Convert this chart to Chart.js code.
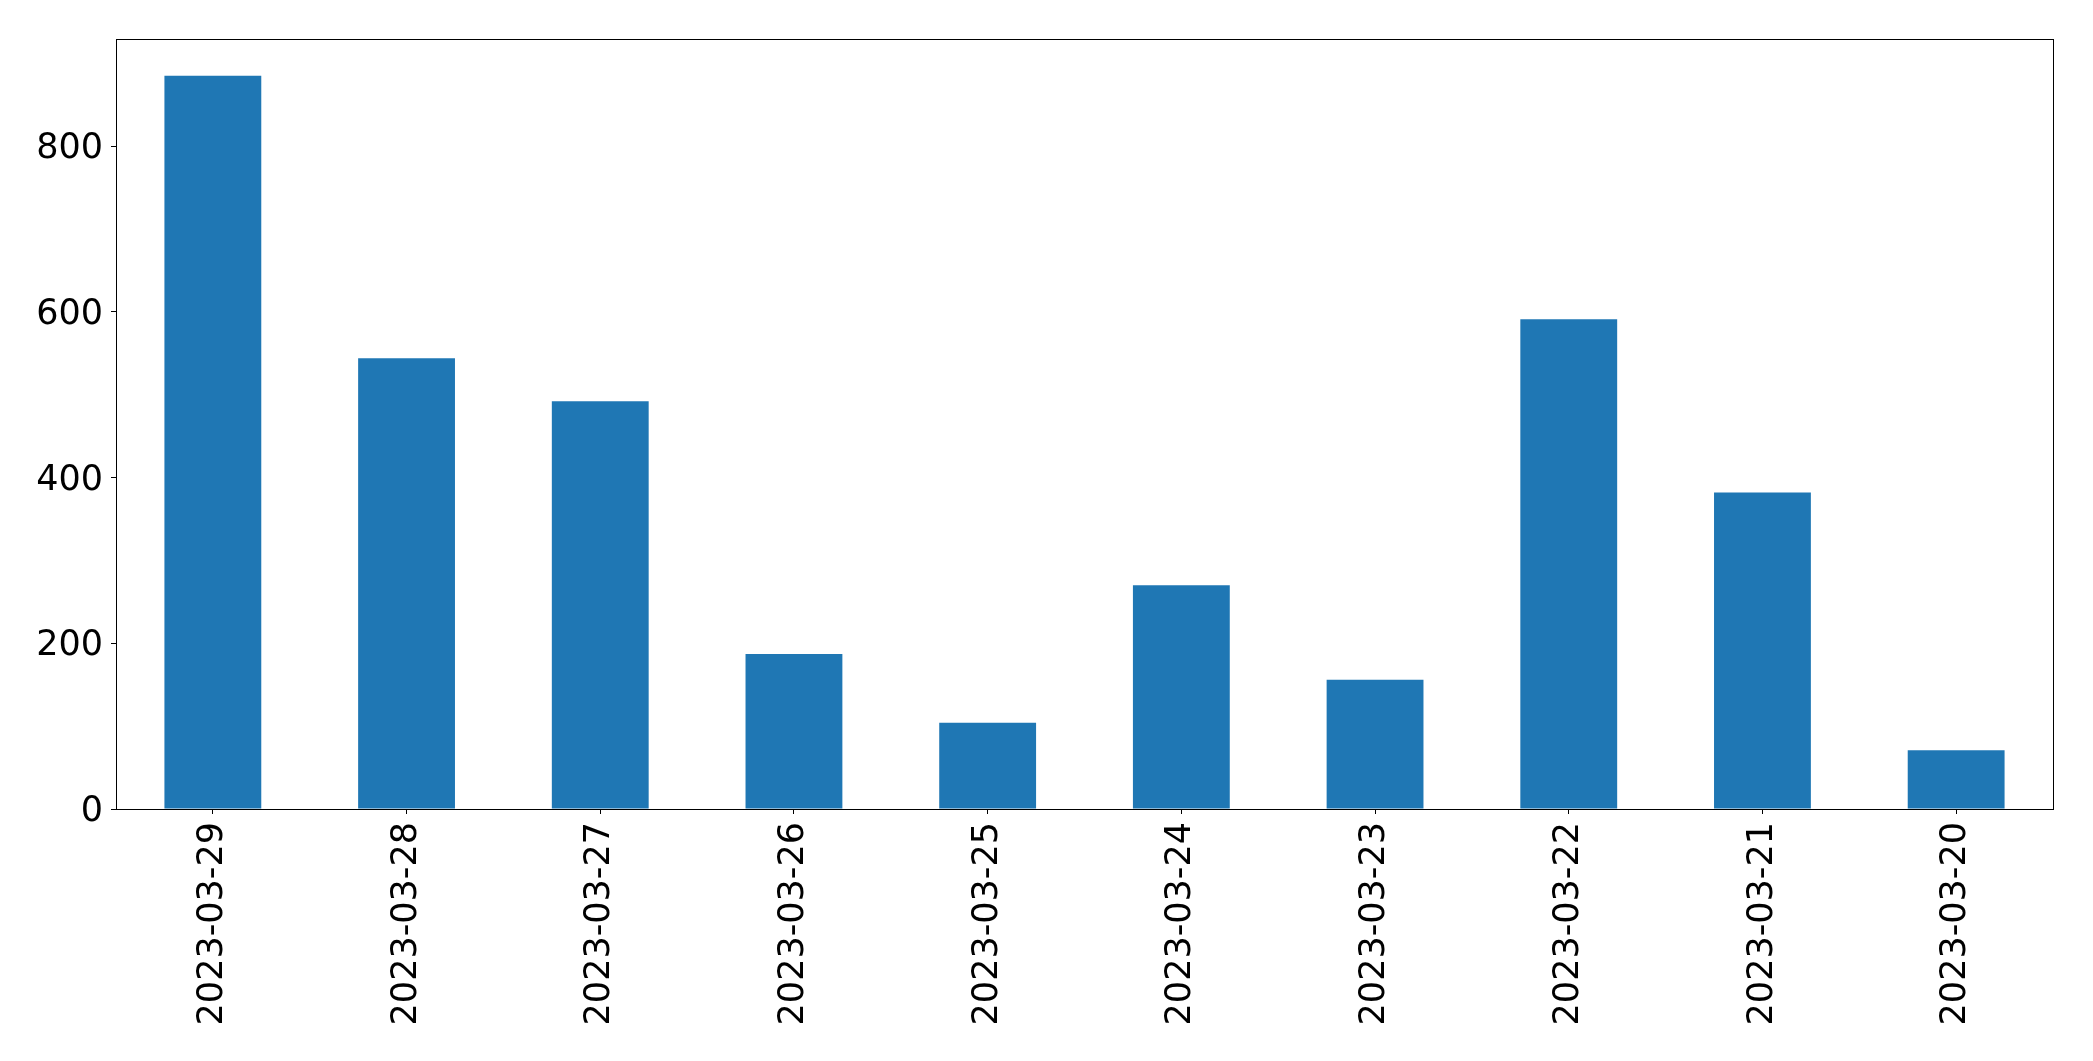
<!DOCTYPE html>
<html>
<head>
<meta charset="utf-8">
<script src="https://cdn.jsdelivr.net/npm/chart.js@4.4.0/dist/chart.umd.min.js"></script>
<style>
  html, body { margin: 0; padding: 0; background: #fff; }
  canvas { display: block; }
</style>
</head>
<body>
<canvas id="barChart" width="2093" height="1061"></canvas>
<script>
// dates as they appear on the x axis (newest first)
const dates = ['2023-03-29', '2023-03-28', '2023-03-27', '2023-03-26', '2023-03-25',
               '2023-03-24', '2023-03-23', '2023-03-22', '2023-03-21', '2023-03-20'];
const counts = [885, 544, 492, 187, 104, 270, 156, 591, 382, 71];
const yTicks = [0, 200, 400, 600, 800];

// draws the top and right sides of the axes box too
const frame = {
    id: 'frame',
    afterDraw(chart) {
        const a = chart.chartArea;
        const c = chart.ctx;
        c.save();
        c.strokeStyle = '#000';
        c.lineWidth = 1;
        c.strokeRect(Math.round(a.left) + 0.5, Math.round(a.top) + 0.5,
                     Math.round(a.right - a.left), Math.round(a.bottom - a.top));
        c.restore();
    }
};

const ctx = document.getElementById('barChart').getContext('2d');
const chart = new Chart(ctx, {
    type: 'bar',
    data: {
        labels: dates,
        datasets: [{
            data: counts,
            backgroundColor: '#1f77b4',
            borderWidth: 0,
            barPercentage: 0.5,
            categoryPercentage: 1.0
        }]
    },
    options: {
        responsive: false,
        animation: false,
        devicePixelRatio: 1,
        layout: { padding: { left: 0, top: 39, right: 40, bottom: 0 } },
        plugins: {
            legend: { display: false },
            tooltip: { enabled: false }
        },
        scales: {
            x: {
                grid: { display: true, offset: false, drawOnChartArea: false, drawTicks: true, tickLength: 5, color: '#000' },
                border: { display: true, color: '#000', width: 1 },
                ticks: {
                    color: '#000',
                    font: { family: 'DejaVu Sans', size: 35 },
                    minRotation: 90,
                    maxRotation: 90,
                    autoSkip: false,
                    padding: 8
                },
                afterFit(scale) { scale.height = 252; }
            },
            y: {
                min: 0,
                max: Math.max(...counts) * 1.05,
                grid: { display: true, drawOnChartArea: false, drawTicks: true, tickLength: 5, color: '#000' },
                border: { display: true, color: '#000', width: 1 },
                afterBuildTicks(scale) { scale.ticks = yTicks.map(v => ({ value: v })); },
                ticks: {
                    color: '#000',
                    font: { family: 'DejaVu Sans', size: 35 },
                    padding: 8,
                    labelOffset: 3,
                    includeBounds: false
                },
                afterFit(scale) { scale.width = 116; }
            }
        }
    },
    plugins: [frame]
});
</script>
</body>
</html>
